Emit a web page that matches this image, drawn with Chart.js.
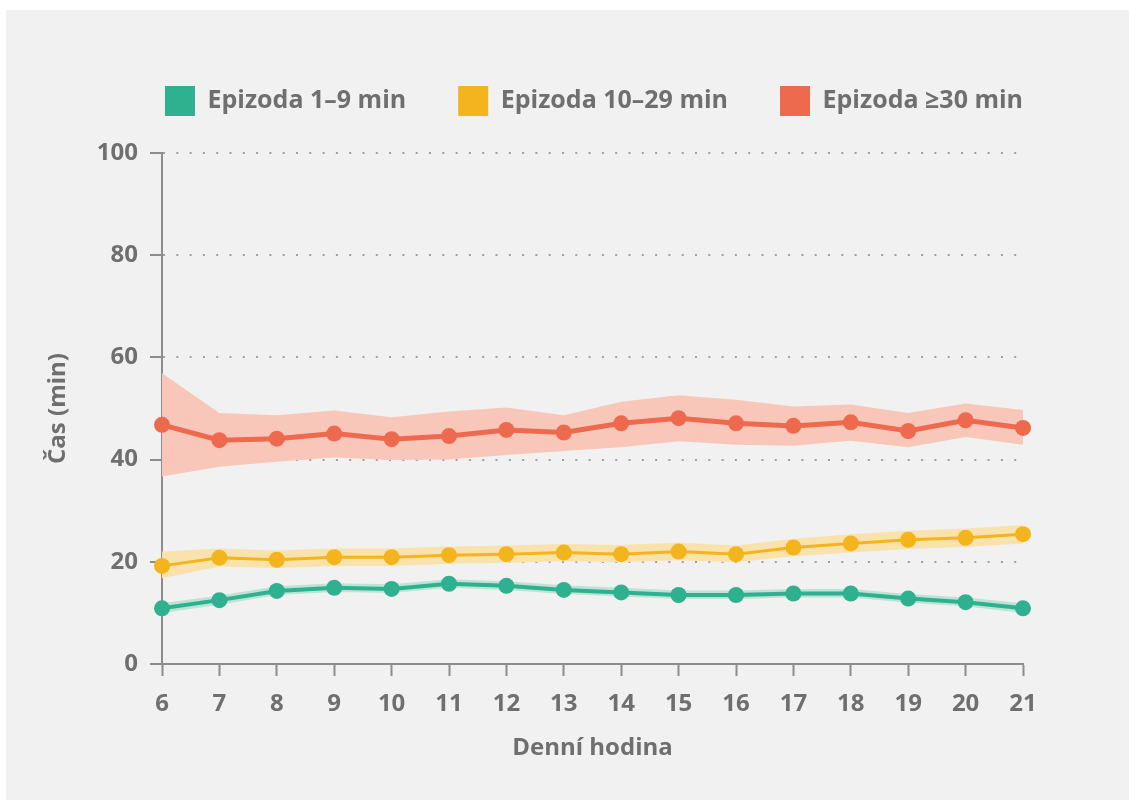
<!DOCTYPE html>
<html>
<head>
<meta charset="utf-8">
<script src="https://cdn.jsdelivr.net/npm/chart.js@4/dist/chart.umd.min.js"></script>
<style>
    html, body { margin: 0; background: #fff; overflow: hidden; }
    #chart { display: block; }
</style>
</head>
<body>
<canvas id="chart" width="1129" height="802"></canvas>
<script>
/* Čas strávený v epizodách podle denní hodiny – tři délky epizod s pásmem nejistoty */

const TEXT = '#6f6f6f';
const AXIS = '#8c8c8c';
const FONT = "'Open Sans', sans-serif";

const hours = ['6', '7', '8', '9', '10', '11', '12', '13', '14', '15', '16', '17', '18', '19', '20', '21'];
const yTicks = [0, 20, 40, 60, 80, 100];

const shortMean = [10.9, 12.5, 14.3, 14.9, 14.7, 15.7, 15.3, 14.5, 14.0, 13.5, 13.5, 13.8, 13.8, 12.8, 12.1, 10.9];
const shortLow = [10.0, 11.6, 13.5, 14.1, 13.9, 14.9, 14.5, 13.7, 13.2, 12.7, 12.7, 13.0, 13.0, 12.0, 11.3, 10.0];
const shortHigh = [11.9, 13.4, 15.2, 15.8, 15.6, 16.6, 16.2, 15.4, 14.9, 14.4, 14.4, 14.7, 14.7, 13.7, 13.0, 11.9];

const midMean = [19.2, 20.8, 20.4, 20.9, 20.9, 21.3, 21.5, 21.8, 21.5, 22.0, 21.5, 22.8, 23.6, 24.3, 24.7, 25.4];
const midLow = [16.8, 19.1, 18.8, 19.2, 19.2, 19.6, 19.8, 20.1, 19.9, 20.3, 19.9, 21.1, 21.8, 22.5, 22.9, 23.6];
const midHigh = [22.0, 22.6, 22.2, 22.6, 22.6, 23.0, 23.2, 23.5, 23.3, 23.8, 23.2, 24.5, 25.4, 26.1, 26.5, 27.2];

const longMean = [46.8, 43.8, 44.1, 45.1, 44.0, 44.6, 45.8, 45.3, 47.1, 48.1, 47.1, 46.6, 47.3, 45.6, 47.7, 46.2];
const longLow = [36.7, 38.6, 39.6, 40.4, 39.9, 40.0, 40.9, 41.7, 42.4, 43.6, 42.9, 42.7, 43.7, 42.4, 44.4, 42.9];
const longHigh = [56.9, 49.1, 48.7, 49.6, 48.3, 49.4, 50.2, 48.7, 51.3, 52.6, 51.7, 50.4, 50.8, 49.1, 51.0, 49.7];

const series = [
    { label: 'Epizoda 1–9 min', mean: shortMean, low: shortLow, high: shortHigh, color: '#2fb08f', band: '#bce3d4', width: 4 },
    { label: 'Epizoda 10–29 min', mean: midMean, low: midLow, high: midHigh, color: '#f3b41e', band: '#fae2ac', width: 3 },
    { label: 'Epizoda ≥30 min', mean: longMean, low: longLow, high: longHigh, color: '#ed6a4f', band: '#f8c7b9', width: 5 },
];

// čáry s body navrchu, pásma (horní -> dolní okraj) pod nimi
const lineSets = series.map((s) => ({
    label: s.label,
    data: s.mean,
    borderColor: s.color,
    backgroundColor: s.color,
    borderWidth: s.width,
    pointRadius: 8,
    pointBorderWidth: 0,
    tension: 0,
    clip: false,
    order: 0,
}));
const bandSets = series.flatMap((s) => [
    { label: 'band', data: s.high, borderWidth: 0, pointRadius: 0, fill: '+1', backgroundColor: s.band, order: 1 },
    { label: 'band', data: s.low, borderWidth: 0, pointRadius: 0, fill: false, backgroundColor: s.band, order: 1 },
]);

const panel = {
    id: 'panel',
    beforeDraw(c) {
        const { ctx } = c;
        ctx.save();
        ctx.fillStyle = '#ffffff';
        ctx.fillRect(0, 0, c.width, c.height);
        ctx.fillStyle = '#f1f1f1';
        ctx.fillRect(6, 10, c.width - 6, 790);
        ctx.restore();
    },
};

const font = { family: FONT, size: 24, weight: 'bold' };

// Legenda je přes celou šířku; záporný pravý okraj + prázdná pravá osa ji
// vystředí nad grafem tak jako v předloze
new Chart(document.getElementById('chart'), {
    type: 'line',
    data: { labels: hours, datasets: [...lineSets, ...bandSets] },
    options: {
        responsive: false,
        animation: false,
        layout: { padding: { left: 39, right: -20, top: 34, bottom: 0 } },
        plugins: {
            tooltip: { enabled: false },
            title: { display: true, text: '', weight: 500, padding: { top: 0, bottom: 15 }, font: { size: 10 } },
            legend: {
                position: 'top',
                weight: 1000,
                labels: {
                    boxWidth: 30,
                    boxHeight: 30,
                    padding: 52,
                    color: TEXT,
                    font: { family: FONT, size: 25, weight: 'bold' },
                    generateLabels: () => series.map((s, i) => ({
                        text: s.label,
                        fillStyle: s.color,
                        strokeStyle: s.color,
                        lineWidth: 0,
                        fontColor: TEXT,
                        datasetIndex: i,
                    })),
                },
            },
        },
        scales: {
            x: {
                offset: false,
                afterFit: (scale) => { scale.height = 802 - 664; },
                grid: { drawOnChartArea: false, tickLength: 12, tickColor: AXIS, tickWidth: 2 },
                border: { color: AXIS, width: 2 },
                ticks: { color: TEXT, padding: 14, maxRotation: 0, font },
                title: { display: true, text: 'Denní hodina', color: TEXT, padding: { top: 39, bottom: 39 }, font },
            },
            y: {
                min: 0,
                max: 100,
                afterFit: (scale) => { scale.width = 162 - 39; },
                afterBuildTicks: (scale) => { scale.ticks = yTicks.map((v) => ({ value: v })); },
                grid: {
                    color: (ctx) => (ctx.tick && ctx.tick.value === 0 ? 'rgba(0,0,0,0)' : '#a0a0a0'),
                    lineWidth: 2,
                    tickLength: 12,
                    tickColor: AXIS,
                    tickWidth: 2,
                    tickBorderDash: [],
                },
                border: { color: AXIS, width: 2, dash: [2, 11.3] },
                ticks: { color: TEXT, padding: 12, font },
                title: { display: true, text: 'Čas (min)', color: TEXT, padding: { top: 5, bottom: 5 }, font },
            },
            yRight: {
                position: 'right',
                afterFit: (scale) => { scale.width = 1149 - 1023; },
                grid: { display: false },
                border: { display: false },
                ticks: { display: false },
            },
        },
    },
    plugins: [panel],
});
</script>
</body>
</html>
